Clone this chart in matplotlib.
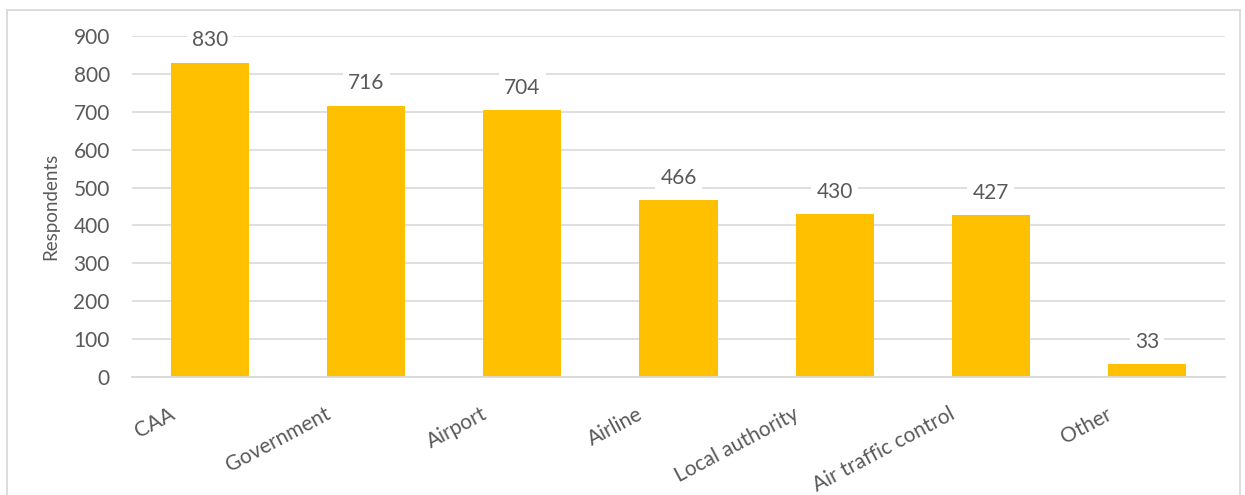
import matplotlib
matplotlib.use("Agg")
import matplotlib.pyplot as plt
import matplotlib.transforms as mtransforms
from matplotlib.patches import Rectangle

categories = ["CAA", "Government", "Airport", "Airline", "Local authority",
              "Air traffic control", "Other"]
values = [830, 716, 704, 466, 430, 427, 33]
yticks = [0, 100, 200, 300, 400, 500, 600, 700, 800, 900]

plt.rcParams['font.family'] = ['Lato', 'DejaVu Sans']
txt = '#595959'
grid = '#D9D9D9'
bar_c = '#FFC000'

fig = plt.figure(figsize=(12.45, 4.95), dpi=100)
# outer chart frame
fig.patches.append(Rectangle((7/1245, -0.05), (1240-7)/1245, 1.05 - 10/495,
                             transform=fig.transFigure, fill=False,
                             edgecolor=grid, linewidth=1.3))
ax = fig.add_axes([132/1245, 1-377/495, (1225-132)/1245, (377-36)/495])

x = list(range(len(categories)))
ax.bar(x, values, width=0.5, color=bar_c, zorder=2)
ax.set_xlim(-0.5, len(categories) - 0.5)
ax.set_ylim(0, 900)
ax.set_yticks(yticks)
ax.set_yticklabels([str(v) for v in yticks], fontsize=15, color=txt)
ax.tick_params(axis='y', length=0, pad=16)
ax.tick_params(axis='x', length=0)
ax.grid(axis='y', color=grid, linewidth=1.2, zorder=0)
ax.set_axisbelow(True)
for s in ['top', 'right', 'left']:
    ax.spines[s].set_visible(False)
ax.spines['bottom'].set_color(grid)
ax.spines['bottom'].set_linewidth(1.3)
ax.spines['bottom'].set_zorder(3)

ax.set_xticks(x)
ax.set_xticklabels(categories, fontsize=15, color=txt, rotation=28,
                   ha='right', va='top', rotation_mode='anchor')
offset = mtransforms.ScaledTranslation(-30/72, -16/72, fig.dpi_scale_trans)
for lab in ax.get_xticklabels():
    lab.set_transform(lab.get_transform() + offset)

ax.set_ylabel("Respondents", fontsize=13.5, color=txt, labelpad=10)

for xi, v in zip(x, values):
    ax.annotate(str(v), (xi, v), xytext=(0, 9), textcoords='offset points',
                ha='center', va='bottom', fontsize=15, color=txt,
                bbox=dict(boxstyle='square,pad=0.25', fc='white', ec='none'),
                zorder=4)

fig.savefig("out.png", dpi=100)
